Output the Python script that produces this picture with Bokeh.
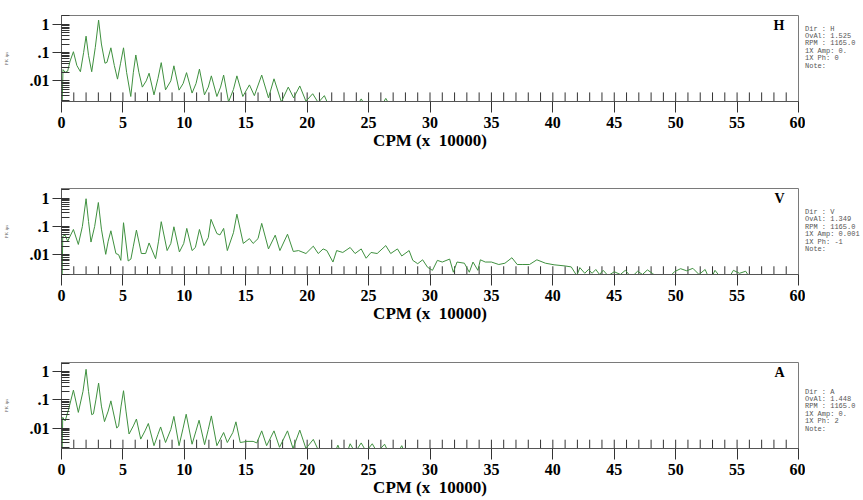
from bokeh.plotting import figure
from bokeh.layouts import column, row
from bokeh.models import Range1d, FixedTicker, Label, Div
from bokeh.embed import file_html
from bokeh.resources import INLINE

# ---------------- data ----------------
cpm_ticks = [0, 5, 10, 15, 20, 25, 30, 35, 40, 45, 50, 55, 60]
order_marks = list(range(1, 60))
y_major = [0.01, 0.1, 1]
y_minor = [0.002, 0.003, 0.004, 0.005, 0.006, 0.007, 0.008, 0.009,
           0.02, 0.03, 0.04, 0.05, 0.06, 0.07, 0.08, 0.09,
           0.2, 0.3, 0.4, 0.5, 0.6, 0.7, 0.8, 0.9, 2]
y_labels = {0.01: ".01", 0.1: ".1", 1: "1"}

h_cpm = [0.05, 0.12, 0.3, 0.5, 0.7, 0.97, 1.25, 1.54, 1.8, 2.0, 2.2, 2.46, 2.75, 3.02, 3.25,
         3.54, 3.7, 4.02, 4.3, 4.56, 4.8, 5.05, 5.3, 5.64, 5.85, 6.05, 6.3, 6.58, 6.9, 7.13,
         7.53, 7.85, 8.12, 8.47, 8.9, 9.15, 9.57, 9.9, 10.18, 10.63, 10.95, 11.23, 11.64,
         11.95, 12.2, 12.65, 12.95, 13.2, 13.6, 14.0, 14.28, 14.76, 15.3, 15.7, 16.3, 16.85,
         17.3, 17.9, 18.46, 18.9, 19.4, 19.9, 20.45, 20.9, 21.4, 21.8, 24.0, 24.4, 24.8,
         26.0, 26.4, 26.8, 60]
h_amp = [0.0012, 0.025, 0.02, 0.022, 0.05, 0.107, 0.035, 0.021, 0.1, 0.38, 0.08, 0.021, 0.15,
         1.4, 0.2, 0.042, 0.045, 0.147, 0.035, 0.0115, 0.04, 0.147, 0.02, 0.0028, 0.02, 0.082,
         0.02, 0.006, 0.01, 0.0186, 0.0032, 0.012, 0.044, 0.0048, 0.01, 0.034, 0.0047, 0.008,
         0.0195, 0.0037, 0.008, 0.026, 0.0032, 0.006, 0.015, 0.0028, 0.006, 0.016, 0.0018,
         0.005, 0.015, 0.0028, 0.0072, 0.003, 0.016, 0.0025, 0.0118, 0.0018, 0.006, 0.0025,
         0.0066, 0.0019, 0.0035, 0.0017, 0.003, 0.0012, 0.0012, 0.0023, 0.0012, 0.0012,
         0.0024, 0.0012, 0.0012]

v_cpm = [0.05, 0.1, 0.3, 0.5, 0.75, 0.97, 1.37, 1.7, 2.0, 2.2, 2.4, 2.7, 3.0, 3.25, 3.6, 3.8,
         4.02, 4.43, 4.65, 4.83, 5.05, 5.43, 5.65, 5.85, 6.1, 6.5, 6.85, 7.13, 7.66, 7.9, 8.12,
         8.6, 8.9, 9.15, 9.6, 9.95, 10.2, 10.63, 10.9, 11.23, 11.6, 11.95, 12.17, 12.65, 12.9,
         13.2, 13.5, 14.0, 14.28, 14.8, 15.3, 15.6, 16.0, 16.3, 16.85, 17.4, 17.78, 18.4,
         18.87, 19.3, 19.9, 20.5, 20.9, 21.3, 21.6, 22.1, 22.4, 22.9, 23.5, 23.9, 24.4, 24.8,
         25.2, 25.7, 26.4, 26.8, 27.35, 27.7, 28.3, 28.6, 29.0, 29.4, 29.8, 30.2, 30.6, 31.0,
         31.6, 31.9, 32.2, 32.8, 33.2, 33.5, 33.9, 34.1, 34.5, 35.0, 35.6, 36.1, 36.67, 37.1,
         37.5, 38.1, 38.7, 39.4, 40.1, 41.0, 41.5, 41.95, 42.2, 42.6, 42.9, 43.2, 43.5, 43.8,
         44.1, 44.5, 45.0, 45.5, 45.9, 46.4, 46.9, 47.3, 47.7, 48.1, 48.5, 49.2, 49.9, 50.4,
         50.9, 51.4, 51.9, 52.4, 52.8, 53.2, 53.7, 54.2, 54.7, 55.2, 55.7, 56.1, 56.7, 57.2,
         57.5, 60]
v_amp = [0.0012, 0.045, 0.049, 0.03, 0.05, 0.078, 0.023, 0.1, 0.95, 0.15, 0.028, 0.1, 0.7,
         0.08, 0.0103, 0.03, 0.07, 0.011, 0.01, 0.0063, 0.135, 0.006, 0.007, 0.02, 0.074,
         0.011, 0.011, 0.026, 0.0072, 0.03, 0.147, 0.014, 0.025, 0.097, 0.0125, 0.025, 0.085,
         0.014, 0.018, 0.078, 0.021, 0.04, 0.178, 0.056, 0.05, 0.085, 0.014, 0.06, 0.27, 0.025,
         0.037, 0.025, 0.037, 0.128, 0.016, 0.049, 0.014, 0.053, 0.013, 0.014, 0.011, 0.02,
         0.011, 0.016, 0.014, 0.0055, 0.014, 0.012, 0.018, 0.011, 0.016, 0.0075, 0.012, 0.011,
         0.021, 0.011, 0.016, 0.009, 0.014, 0.0063, 0.0048, 0.0066, 0.0036, 0.0028, 0.0063,
         0.0055, 0.007, 0.0024, 0.0055, 0.005, 0.0024, 0.0055, 0.0028, 0.0066, 0.0055, 0.0055,
         0.0045, 0.005, 0.0078, 0.0045, 0.0045, 0.0045, 0.0066, 0.005, 0.0044, 0.004, 0.0037,
         0.0018, 0.0035, 0.0022, 0.003, 0.0022, 0.003, 0.002, 0.0028, 0.0018, 0.0025, 0.002,
         0.0028, 0.0016, 0.0026, 0.002, 0.0029, 0.0022, 0.0016, 0.0012, 0.0025, 0.0032, 0.0027,
         0.0033, 0.002, 0.003, 0.0012, 0.0028, 0.0015, 0.0012, 0.0028, 0.0022, 0.0026, 0.0014,
         0.002, 0.0015, 0.0012, 0.0012]

a_cpm = [0.05, 0.1, 0.3, 0.6, 0.97, 1.37, 1.75, 2.0, 2.2, 2.46, 2.6, 2.8, 3.02, 3.25, 3.5, 3.8,
         4.02, 4.5, 4.65, 4.85, 5.05, 5.25, 5.5, 5.85, 6.1, 6.45, 6.8, 7.07, 7.53, 7.85, 8.07,
         8.47, 8.9, 9.15, 9.57, 9.9, 10.15, 10.63, 10.95, 11.2, 11.65, 11.95, 12.2, 12.65,
         13.2, 13.5, 13.95, 14.2, 14.55, 15.1, 15.6, 15.9, 16.3, 16.7, 17.3, 17.75, 18.4,
         18.85, 19.4, 19.9, 20.5, 20.9, 21.2, 22.2, 22.5, 22.8, 23.2, 23.5, 23.9, 24.4, 24.8,
         25.3, 25.7, 26.3, 26.7, 27.3, 27.7, 28.0, 60]
a_amp = [0.0012, 0.024, 0.018, 0.05, 0.22, 0.036, 0.2, 1.2, 0.2, 0.03, 0.032, 0.1, 0.39, 0.06,
         0.017, 0.04, 0.092, 0.01, 0.012, 0.06, 0.21, 0.04, 0.0062, 0.012, 0.021, 0.0041,
         0.008, 0.0146, 0.0024, 0.006, 0.011, 0.0031, 0.009, 0.026, 0.0024, 0.01, 0.031,
         0.0027, 0.008, 0.019, 0.0026, 0.009, 0.027, 0.0024, 0.007, 0.0031, 0.007, 0.0167,
         0.0031, 0.0034, 0.0034, 0.003, 0.008, 0.0024, 0.008, 0.0021, 0.008, 0.0019, 0.0085,
         0.0019, 0.004, 0.0017, 0.0012, 0.0012, 0.0025, 0.0012, 0.0012, 0.0028, 0.0014, 0.003,
         0.0015, 0.0028, 0.0014, 0.0027, 0.0012, 0.0012, 0.0024, 0.0012, 0.0012]

h_info = ["Dir : H", "OvAl: 1.525", "RPM : 1165.0", "1X Amp: 0.", "1X Ph: 0", "Note:"]
v_info = ["Dir : V", "OvAl: 1.349", "RPM : 1165.0", "1X Amp: 0.001", "1X Ph: -1", "Note:"]
a_info = ["Dir : A", "OvAl: 1.448", "RPM : 1165.0", "1X Amp: 0.", "1X Ph: 2", "Note:"]

x_title = "CPM (x\u00a0 10000)"
y_unit = "PK ips"
order_mark_top = 0.0039

SERIF = "Liberation Serif"
MONO = "Liberation Mono"
GREEN = "#3f903f"
FRAME_H = 86
PLOT_W = 805
INFO_W = 58


def panel(cpm, amp, letter, info, log_lo, log_hi, height, top, info_pad):
    y_lo, y_hi = 10 ** log_lo, 10 ** log_hi
    p = figure(width=PLOT_W, height=height, y_axis_type="log",
               x_range=Range1d(0, 60), y_range=Range1d(y_lo, y_hi),
               output_backend="svg", toolbar_location=None,
               min_border_left=57, min_border_right=7,
               min_border_top=top, min_border_bottom=height - top - FRAME_H)
    p.background_fill_color = "white"
    p.border_fill_color = "white"
    p.outline_line_color = "#7a7a7a"
    p.xgrid.visible = False
    p.ygrid.visible = False

    # order markers
    p.segment(x0=order_marks, y0=[y_lo] * len(order_marks),
              x1=order_marks, y1=[order_mark_top] * len(order_marks),
              line_color="#333333", line_width=1)
    p.line(cpm, amp, line_color=GREEN, line_width=1)

    xa = p.xaxis[0]
    xa.ticker = FixedTicker(ticks=cpm_ticks)
    xa.major_tick_out = 11
    xa.major_tick_in = 0
    xa.minor_tick_out = 0
    xa.minor_tick_in = 0
    xa.axis_line_color = "#555555"
    xa.major_tick_line_color = "#333333"
    xa.major_label_text_font = SERIF
    xa.major_label_text_font_style = "bold"
    xa.major_label_text_font_size = "16px"
    xa.major_label_text_color = "black"
    xa.major_label_standoff = 4
    xa.axis_label = x_title
    xa.axis_label_text_font = SERIF
    xa.axis_label_text_font_style = "bold"
    xa.axis_label_text_font_size = "17px"
    xa.axis_label_text_color = "black"
    xa.axis_label_standoff = 0

    ya = p.yaxis[0]
    ya.ticker = FixedTicker(ticks=y_major, minor_ticks=y_minor)
    ya.major_label_overrides = y_labels
    ya.major_tick_out = 9
    ya.major_tick_in = 8
    ya.minor_tick_in = 8
    ya.minor_tick_out = 0
    ya.axis_line_color = "#555555"
    ya.major_tick_line_color = "#333333"
    ya.minor_tick_line_color = "#333333"
    ya.major_label_text_font = SERIF
    ya.major_label_text_font_style = "bold"
    ya.major_label_text_font_size = "16px"
    ya.major_label_text_color = "black"
    ya.major_label_standoff = 3
    ya.axis_label = y_unit
    ya.axis_label_text_font = SERIF
    ya.axis_label_text_font_style = "normal"
    ya.axis_label_text_font_size = "5px"
    ya.axis_label_text_color = "#666666"
    ya.axis_label_standoff = 18

    p.add_layout(Label(x=60, y=y_hi, x_offset=-14, y_offset=-2, text=letter,
                       text_align="right", text_baseline="top",
                       text_font=SERIF, text_font_style="bold",
                       text_font_size="14px", text_color="black"))

    html = "<br>".join(line.replace(" ", "&nbsp;") for line in info)
    div = Div(text=html, width=INFO_W, height=height, margin=(0, 0, 0, 0),
              styles={"font-family": MONO, "font-size": "7px", "line-height": "7.4px",
                      "color": "#555555", "padding-top": "%.1fpx" % info_pad,
                      "white-space": "nowrap", "background": "white"})
    return row(p, div, spacing=0)


p1 = panel(h_cpm, h_amp, "H", h_info, -2.73, 0.31, 181, 15, 25.6)
p2 = panel(v_cpm, v_amp, "V", v_info, -2.70, 0.34, 174, 7, 28.0)
p3 = panel(a_cpm, a_amp, "A", a_info, -2.72, 0.32, 145, 7, 33.6)

layout = column(p1, p2, p3, spacing=0)
open("out.html", "w").write(file_html(layout, INLINE))
